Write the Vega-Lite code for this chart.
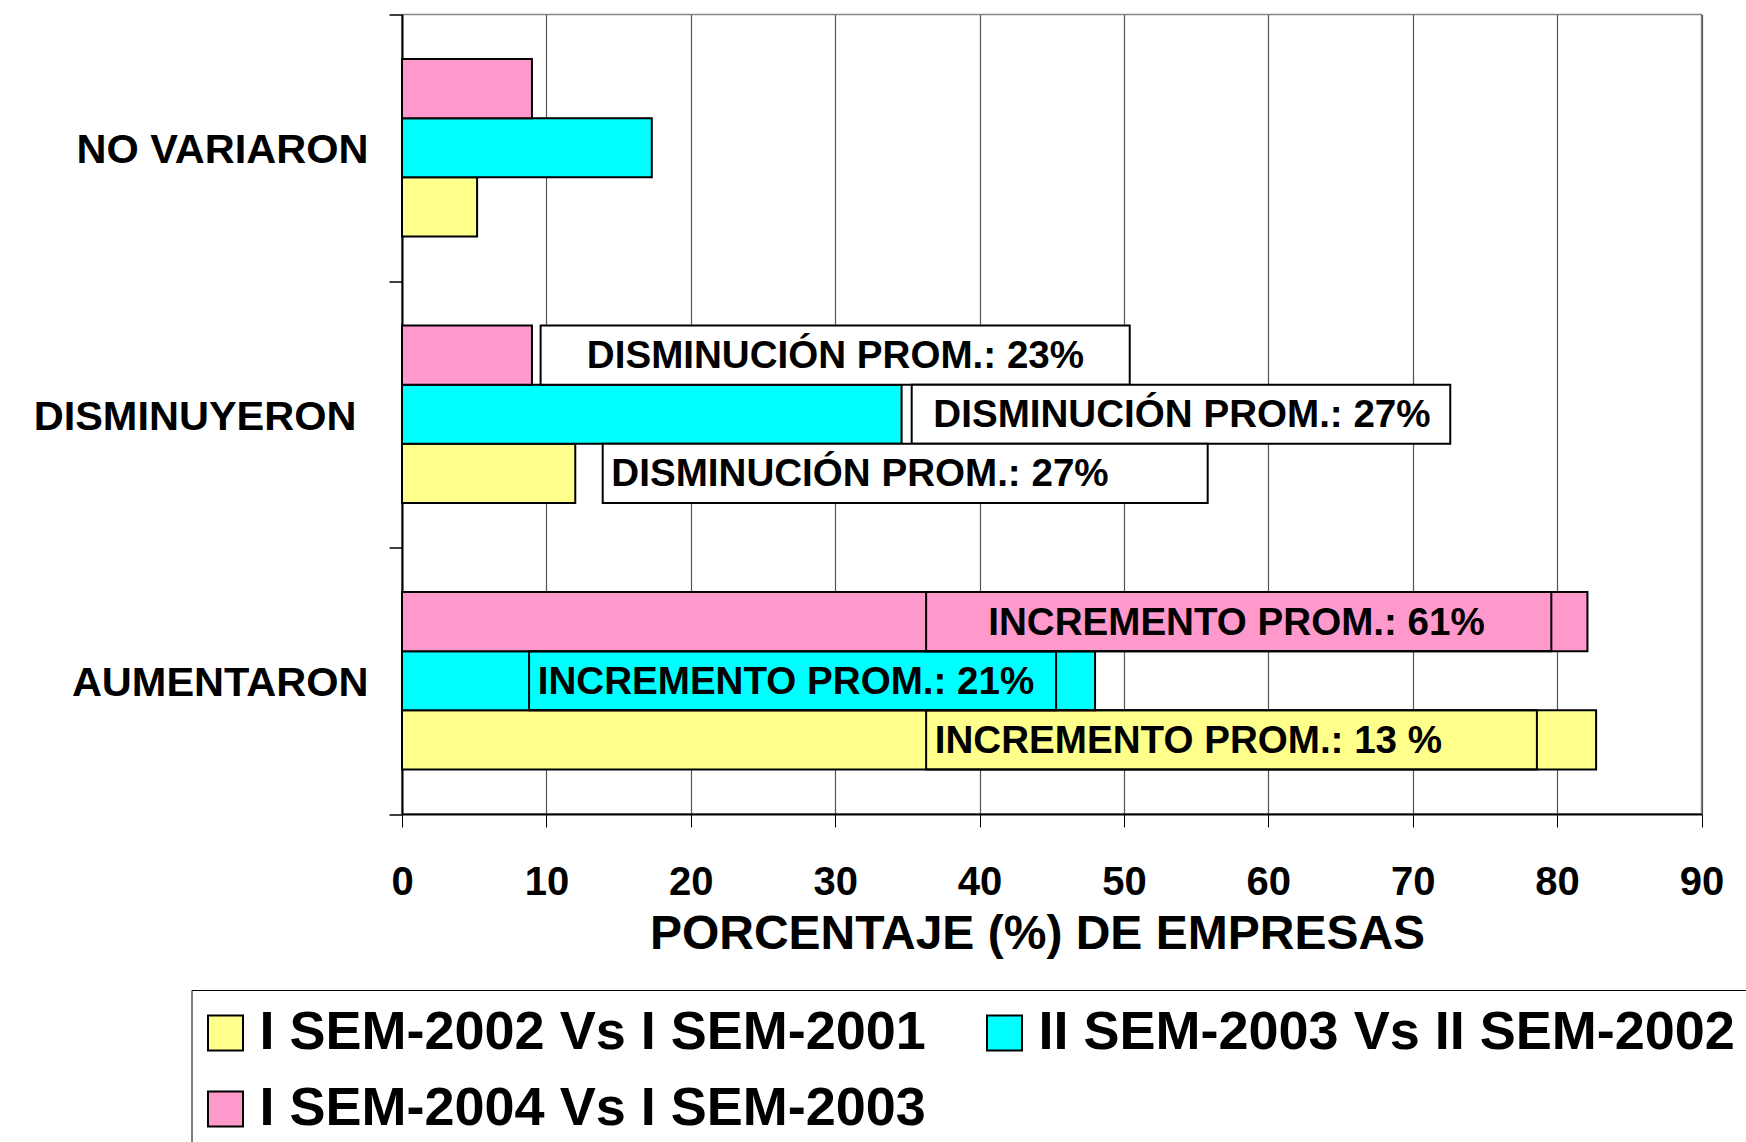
{
  "$schema": "https://vega.github.io/schema/vega-lite/v6.json",
  "width": 1299.5,
  "height": 799.5,
  "autosize": {"type": "none"},
  "padding": {"left": 402, "top": 14.5, "right": 44.5, "bottom": 328},
  "background": "white",
  "config": {"font": "Liberation Sans", "view": {"stroke": "#888", "strokeWidth": 1.5}},
  "datasets": {
    "barras": [
      {"categoria": "NO VARIARON", "serie": "I SEM-2002 Vs I SEM-2001", "pct": 5.2},
      {"categoria": "NO VARIARON", "serie": "II SEM-2003 Vs II SEM-2002", "pct": 17.3},
      {"categoria": "NO VARIARON", "serie": "I SEM-2004 Vs I SEM-2003", "pct": 9.0},
      {"categoria": "DISMINUYERON", "serie": "I SEM-2002 Vs I SEM-2001", "pct": 12.0},
      {"categoria": "DISMINUYERON", "serie": "II SEM-2003 Vs II SEM-2002", "pct": 34.6},
      {"categoria": "DISMINUYERON", "serie": "I SEM-2004 Vs I SEM-2003", "pct": 9.0},
      {"categoria": "AUMENTARON", "serie": "I SEM-2002 Vs I SEM-2001", "pct": 82.7},
      {"categoria": "AUMENTARON", "serie": "II SEM-2003 Vs II SEM-2002", "pct": 48.0},
      {"categoria": "AUMENTARON", "serie": "I SEM-2004 Vs I SEM-2003", "pct": 82.1}
    ],
    "notas": [
      {"categoria": "DISMINUYERON", "serie": "I SEM-2004 Vs I SEM-2003", "x0": 9.6, "x1": 50.4, "tx": 12.8, "texto": "DISMINUCIÓN PROM.: 23%"},
      {"categoria": "DISMINUYERON", "serie": "II SEM-2003 Vs II SEM-2002", "x0": 35.3, "x1": 72.6, "tx": 36.8, "texto": "DISMINUCIÓN PROM.: 27%"},
      {"categoria": "DISMINUYERON", "serie": "I SEM-2002 Vs I SEM-2001", "x0": 13.9, "x1": 55.8, "tx": 14.5, "texto": "DISMINUCIÓN PROM.: 27%"},
      {"categoria": "AUMENTARON", "serie": "I SEM-2004 Vs I SEM-2003", "x0": 36.3, "x1": 79.6, "tx": 40.6, "texto": "INCREMENTO PROM.: 61%"},
      {"categoria": "AUMENTARON", "serie": "II SEM-2003 Vs II SEM-2002", "x0": 8.8, "x1": 45.3, "tx": 9.4, "texto": "INCREMENTO PROM.: 21%"},
      {"categoria": "AUMENTARON", "serie": "I SEM-2002 Vs I SEM-2001", "x0": 36.3, "x1": 78.6, "tx": 36.9, "texto": "INCREMENTO PROM.: 13 %"}
    ]
  },
  "layer": [
    {
      "data": {"name": "barras"},
      "mark": {"type": "bar", "stroke": "black", "strokeWidth": 2},
      "encoding": {
        "y": {
          "field": "categoria", "type": "nominal",
          "sort": ["NO VARIARON", "DISMINUYERON", "AUMENTARON"],
          "scale": {"paddingInner": 0, "paddingOuter": 0},
          "axis": {
            "title": null, "tickBand": "extent", "labelFontSize": 41.5, "labelFontWeight": "bold",
            "labelColor": "black", "labelOffset": 3, "tickSize": 13, "tickColor": "black",
            "labelPadding": {"condition": {"test": "datum.value === 'DISMINUYERON'", "value": 33}, "value": 21},
            "tickWidth": 1.5, "domainColor": "black", "domainWidth": 2, "labelLimit": 400
          }
        },
        "yOffset": {
          "field": "serie", "type": "nominal",
          "sort": ["I SEM-2004 Vs I SEM-2003", "II SEM-2003 Vs II SEM-2002", "I SEM-2002 Vs I SEM-2001"],
          "scale": {"paddingInner": 0, "paddingOuter": 0.755}
        },
        "x": {
          "field": "pct", "type": "quantitative", "title": "PORCENTAJE (%) DE EMPRESAS",
          "scale": {"domain": [0, 90], "nice": false},
          "axis": {
            "values": [0, 10, 20, 30, 40, 50, 60, 70, 80, 90], "grid": true, "gridColor": "#555", "gridWidth": 1.2,
            "labelFontSize": 40, "labelFontWeight": "bold", "labelColor": "black", "labelPadding": 35,
            "labelFlush": false, "tickSize": 13, "tickColor": "black", "domainColor": "black", "domainWidth": 2,
            "titleFontSize": 48, "titleFontWeight": "bold", "titleColor": "black", "titlePadding": 8,
            "titleX": 635, "titleAlign": "center"
          }
        },
        "color": {
          "field": "serie", "type": "nominal",
          "scale": {
            "domain": ["I SEM-2002 Vs I SEM-2001", "II SEM-2003 Vs II SEM-2002", "I SEM-2004 Vs I SEM-2003"],
            "range": ["#FFFF8C", "#00FFFF", "#FF99CC"]
          },
          "legend": {
            "orient": "none", "legendX": -210.5, "legendY": 975.5, "columns": 2, "direction": "horizontal", "title": null,
            "symbolType": "square", "symbolSize": 1225, "symbolStrokeColor": "black", "symbolStrokeWidth": 2,
            "symbolOffset": -9,
            "labelFontSize": 54, "labelFontWeight": "bold", "labelColor": "black", "labelLimit": 1000,
            "labelOffset": 7, "columnPadding": 56, "rowPadding": 22, "padding": 16,
            "strokeColor": "black", "fillColor": "white"
          }
        }
      }
    },
    {
      "data": {"name": "notas"},
      "transform": [{"filter": "datum.categoria === 'DISMINUYERON'"}],
      "mark": {"type": "bar", "fill": "white", "stroke": "black", "strokeWidth": 2},
      "encoding": {
        "y": {"field": "categoria", "type": "nominal", "sort": ["NO VARIARON", "DISMINUYERON", "AUMENTARON"]},
        "yOffset": {"field": "serie", "type": "nominal", "sort": ["I SEM-2004 Vs I SEM-2003", "II SEM-2003 Vs II SEM-2002", "I SEM-2002 Vs I SEM-2001"]},
        "x": {"field": "x0", "type": "quantitative", "title": "PORCENTAJE (%) DE EMPRESAS"},
        "x2": {"field": "x1"}
      }
    },
    {
      "data": {"name": "notas"},
      "transform": [{"filter": "datum.categoria === 'AUMENTARON'"}],
      "mark": {"type": "bar", "fillOpacity": 0, "stroke": "black", "strokeWidth": 2},
      "encoding": {
        "y": {"field": "categoria", "type": "nominal", "sort": ["NO VARIARON", "DISMINUYERON", "AUMENTARON"]},
        "yOffset": {"field": "serie", "type": "nominal", "sort": ["I SEM-2004 Vs I SEM-2003", "II SEM-2003 Vs II SEM-2002", "I SEM-2002 Vs I SEM-2001"]},
        "x": {"field": "x0", "type": "quantitative", "title": "PORCENTAJE (%) DE EMPRESAS"},
        "x2": {"field": "x1"}
      }
    },
    {
      "data": {"name": "notas"},
      "mark": {"type": "text", "align": "left", "baseline": "middle", "fontSize": 38.6, "fontWeight": "bold", "color": "black", "dy": 1},
      "encoding": {
        "y": {"field": "categoria", "type": "nominal", "sort": ["NO VARIARON", "DISMINUYERON", "AUMENTARON"]},
        "yOffset": {"field": "serie", "type": "nominal", "sort": ["I SEM-2004 Vs I SEM-2003", "II SEM-2003 Vs II SEM-2002", "I SEM-2002 Vs I SEM-2001"]},
        "x": {"field": "tx", "type": "quantitative", "title": "PORCENTAJE (%) DE EMPRESAS"},
        "text": {"field": "texto"}
      }
    }
  ]
}
